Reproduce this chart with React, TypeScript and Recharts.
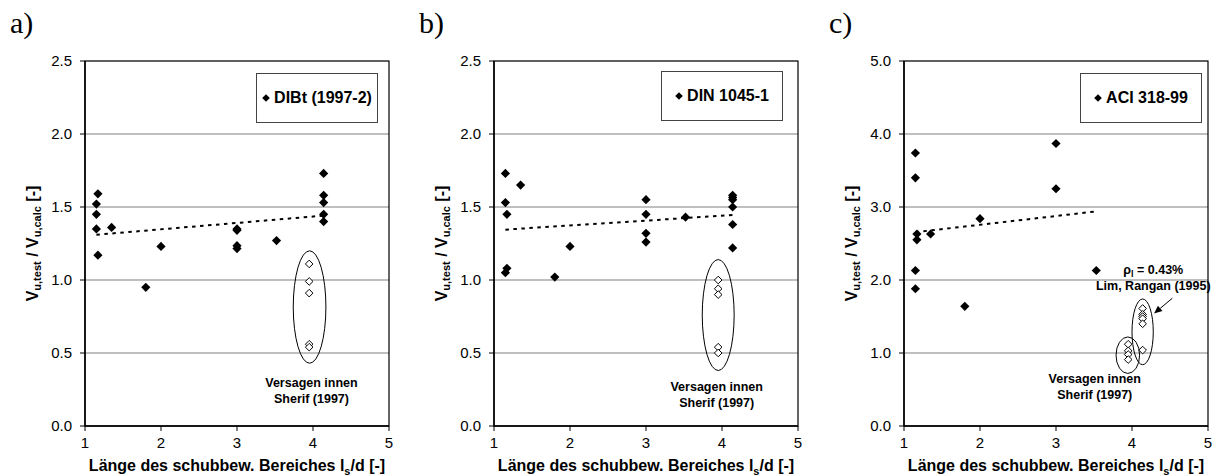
import React from "react";
import {
  ScatterChart,
  Scatter,
  XAxis,
  YAxis,
  CartesianGrid,
  ReferenceArea,
  ReferenceLine,
  ReferenceDot,
  Legend,
} from "recharts";

type Pt = { x: number; y: number };
type Oval = { x1: number; x2: number; y1: number; y2: number };
type Note = { x: number; y: number; lines: string[] };

const SANS = '"Liberation Sans", Arial, sans-serif';
const SERIF = '"Liberation Serif", "Times New Roman", serif';

const X_TICKS = [1, 2, 3, 4, 5];
const Y_TICKS_AB = [0, 0.5, 1, 1.5, 2, 2.5];
const Y_TICKS_C = [0, 1, 2, 3, 4, 5];

// a) DIBt (1997-2)
const dibtTests: Pt[] = [
  { x: 1.17, y: 1.59 },
  { x: 1.15, y: 1.52 },
  { x: 1.15, y: 1.45 },
  { x: 1.15, y: 1.35 },
  { x: 1.17, y: 1.17 },
  { x: 1.35, y: 1.36 },
  { x: 1.8, y: 0.95 },
  { x: 2.0, y: 1.23 },
  { x: 3.0, y: 1.35 },
  { x: 3.0, y: 1.34 },
  { x: 3.0, y: 1.235 },
  { x: 3.0, y: 1.215 },
  { x: 3.52, y: 1.27 },
  { x: 4.14, y: 1.73 },
  { x: 4.14, y: 1.58 },
  { x: 4.14, y: 1.53 },
  { x: 4.14, y: 1.45 },
  { x: 4.14, y: 1.4 },
];
const dibtInner: Pt[] = [
  { x: 3.95, y: 1.11 },
  { x: 3.95, y: 0.99 },
  { x: 3.95, y: 0.91 },
  { x: 3.95, y: 0.56 },
  { x: 3.95, y: 0.54 },
];
const dibtTrend: Pt[] = [
  { x: 1.15, y: 1.31 },
  { x: 4.12, y: 1.44 },
];

// b) DIN 1045-1
const dinTests: Pt[] = [
  { x: 1.15, y: 1.73 },
  { x: 1.15, y: 1.53 },
  { x: 1.17, y: 1.45 },
  { x: 1.17, y: 1.08 },
  { x: 1.15, y: 1.05 },
  { x: 1.35, y: 1.65 },
  { x: 1.8, y: 1.02 },
  { x: 2.0, y: 1.23 },
  { x: 3.0, y: 1.55 },
  { x: 3.0, y: 1.45 },
  { x: 3.0, y: 1.32 },
  { x: 3.0, y: 1.26 },
  { x: 3.52, y: 1.43 },
  { x: 4.14, y: 1.58 },
  { x: 4.14, y: 1.565 },
  { x: 4.14, y: 1.55 },
  { x: 4.14, y: 1.5 },
  { x: 4.14, y: 1.38 },
  { x: 4.14, y: 1.22 },
];
const dinInner: Pt[] = [
  { x: 3.95, y: 1.0 },
  { x: 3.95, y: 0.94 },
  { x: 3.95, y: 0.9 },
  { x: 3.95, y: 0.54 },
  { x: 3.95, y: 0.5 },
];
const dinTrend: Pt[] = [
  { x: 1.15, y: 1.345 },
  { x: 4.14, y: 1.445 },
];

// c) ACI 318-99
const aciTests: Pt[] = [
  { x: 1.15, y: 3.74 },
  { x: 1.15, y: 3.4 },
  { x: 1.17, y: 2.63 },
  { x: 1.17, y: 2.55 },
  { x: 1.15, y: 2.13 },
  { x: 1.15, y: 1.88 },
  { x: 1.35, y: 2.63 },
  { x: 1.8, y: 1.64 },
  { x: 2.0, y: 2.84 },
  { x: 3.0, y: 3.87 },
  { x: 3.0, y: 3.25 },
  { x: 3.53, y: 2.13 },
];
const aciInner: Pt[] = [
  { x: 3.95, y: 1.12 },
  { x: 3.95, y: 1.03 },
  { x: 3.95, y: 0.98 },
  { x: 3.95, y: 0.91 },
];
const aciLimRangan: Pt[] = [
  { x: 4.14, y: 1.61 },
  { x: 4.14, y: 1.53 },
  { x: 4.14, y: 1.5 },
  { x: 4.14, y: 1.47 },
  { x: 4.14, y: 1.4 },
  { x: 4.14, y: 1.04 },
];
const aciTrend: Pt[] = [
  { x: 1.15, y: 2.655 },
  { x: 3.53, y: 2.94 },
];
const aciArrow: Pt[] = [
  { x: 4.53, y: 1.75 },
  { x: 4.29, y: 1.54 },
];

const dibtOvals: Oval[] = [{ x1: 3.74, x2: 4.17, y1: 0.43, y2: 1.2 }];
const dinOvals: Oval[] = [{ x1: 3.74, x2: 4.16, y1: 0.38, y2: 1.14 }];
const aciOvals: Oval[] = [
  { x1: 3.79, x2: 4.1, y1: 0.72, y2: 1.22 },
  { x1: 4.0, x2: 4.28, y1: 0.84, y2: 1.74 },
];

const dibtNotes: Note[] = [{ x: 3.98, y: 0.3, lines: ["Versagen innen", "Sherif (1997)"] }];
const dinNotes: Note[] = [{ x: 3.93, y: 0.27, lines: ["Versagen innen", "Sherif (1997)"] }];
const aciNotes: Note[] = [
  { x: 3.51, y: 0.65, lines: ["Versagen innen", "Sherif (1997)"] },
  { x: 4.28, y: 2.14, lines: ["ρl = 0.43%", "Lim, Rangan (1995)"] },
];

const diamondPath = (cx: number, cy: number, r: number) =>
  `M${cx},${cy - r}L${cx + r},${cy}L${cx},${cy + r}L${cx - r},${cy}Z`;

const FilledDiamond = (p: any) => <path d={diamondPath(p.cx, p.cy, 4.6)} fill="#000" />;
const OpenDiamond = (p: any) => (
  <path d={diamondPath(p.cx, p.cy, 3.8)} fill="#fff" stroke="#000" strokeWidth={1} />
);

const OvalShape = (p: any) => (
  <ellipse
    cx={p.x + p.width / 2}
    cy={p.y + p.height / 2}
    rx={p.width / 2}
    ry={p.height / 2}
    fill="none"
    stroke="#000"
    strokeWidth={1}
  />
);

const ArrowShape = (p: any) => {
  const { x1, y1, x2, y2 } = p;
  const a = Math.atan2(y2 - y1, x2 - x1);
  const len = 8;
  const w = 3.5;
  const bx = x2 - len * Math.cos(a);
  const by = y2 - len * Math.sin(a);
  const nx = -Math.sin(a) * w;
  const ny = Math.cos(a) * w;
  return (
    <g>
      <line x1={x1} y1={y1} x2={bx} y2={by} stroke="#000" strokeWidth={1} />
      <polygon points={`${x2},${y2} ${bx + nx},${by + ny} ${bx - nx},${by - ny}`} fill="#000" />
    </g>
  );
};

function noteShape(lines: string[]) {
  return (p: any) => (
    <text
      x={p.cx}
      y={p.cy}
      textAnchor="middle"
      fontFamily={SANS}
      fontWeight="bold"
      fontSize={12.5}
      fill="#000"
    >
      {lines.map((line, i) => {
        const dy = i === 0 ? 4.5 : 16;
        if (line.startsWith("ρl")) {
          return (
            <tspan key={i} x={p.cx} dy={dy}>
              ρ<tspan fontSize={9} dy={3}>l</tspan>
              <tspan dy={-3}>{line.slice(2)}</tspan>
            </tspan>
          );
        }
        return (
          <tspan key={i} x={p.cx} dy={dy}>
            {line}
          </tspan>
        );
      })}
    </text>
  );
}

const YTitle = (props: any) => {
  const vb = props.viewBox;
  const x = vb.x + 12.5;
  const y = vb.y + vb.height / 2;
  return (
    <text
      x={x}
      y={y}
      transform={`rotate(-90, ${x}, ${y})`}
      textAnchor="middle"
      fontFamily={SANS}
      fontWeight="bold"
      fontSize={16}
      fill="#000"
    >
      V<tspan fontSize={11} dy={3}>u,test</tspan>
      <tspan dy={-3}> / V</tspan>
      <tspan fontSize={11} dy={3}>u,calc</tspan>
      <tspan dy={-3}> [-]</tspan>
    </text>
  );
};

const XTitle = (props: any) => {
  const vb = props.viewBox;
  return (
    <text
      x={vb.x + vb.width / 2}
      y={vb.y + 44.5}
      textAnchor="middle"
      fontFamily={SANS}
      fontWeight="bold"
      fontSize={16}
      fill="#000"
    >
      Länge des schubbew. Bereiches l<tspan fontSize={11} dy={4}>s</tspan>
      <tspan dy={-4}>/d [-]</tspan>
    </text>
  );
};

type PanelProps = {
  letter: string;
  name: string;
  left: number;
  yTicks: number[];
  tests: Pt[];
  inner: Pt[][];
  trend: Pt[];
  ovals: Oval[];
  notes: Note[];
  arrow?: Pt[];
  legendBox: { left: number; top: number };
};

function Panel(props: PanelProps) {
  const { letter, name, left, yTicks, tests, inner, trend, ovals, notes, arrow, legendBox } = props;
  const yMax = yTicks[yTicks.length - 1];
  const tickStyle = { fontFamily: SANS, fontSize: 15, fill: "#000" };
  return (
    <div style={{ position: "absolute", left, top: 0, width: 399, height: 476 }}>
      <div
        style={{
          position: "absolute",
          left: 10,
          top: 8,
          fontFamily: SERIF,
          fontSize: 30,
          lineHeight: "30px",
          color: "#000",
        }}
      >
        {letter}
      </div>
      <ScatterChart width={399} height={476} margin={{ top: 61, right: 10, bottom: 0, left: 25 }}>
        <CartesianGrid vertical={false} stroke="#808080" strokeWidth={1.2} />
        <XAxis
          dataKey="x"
          type="number"
          domain={[1, 5]}
          ticks={X_TICKS}
          height={50}
          tick={tickStyle}
          tickSize={5}
          tickMargin={6}
          axisLine={{ stroke: "#000", strokeWidth: 1.5 }}
          tickLine={{ stroke: "#000" }}
          label={XTitle}
        />
        <YAxis
          dataKey="y"
          type="number"
          domain={[0, yMax]}
          ticks={yTicks}
          width={60}
          tick={tickStyle}
          tickSize={5}
          tickMargin={8}
          tickFormatter={(v: number) => v.toFixed(1)}
          axisLine={{ stroke: "#000", strokeWidth: 1.5 }}
          tickLine={{ stroke: "#000" }}
          label={YTitle}
        />
        <ReferenceArea x1={1} x2={5} y1={0} y2={yMax} fill="none" stroke="#000" strokeWidth={1.2} />
        <ReferenceLine
          segment={trend}
          stroke="#000"
          strokeWidth={2}
          strokeDasharray="3.5 4.5"
        />
        {ovals.map((o, i) => (
          <ReferenceArea key={`o${i}`} x1={o.x1} x2={o.x2} y1={o.y1} y2={o.y2} shape={OvalShape} />
        ))}
        {arrow && <ReferenceLine segment={arrow} shape={ArrowShape} />}
        {notes.map((n, i) => (
          <ReferenceDot key={`n${i}`} x={n.x} y={n.y} r={0} shape={noteShape(n.lines)} />
        ))}
        <Scatter data={tests} shape={FilledDiamond} isAnimationActive={false} />
        {inner.map((set, i) => (
          <Scatter key={`i${i}`} data={set} shape={OpenDiamond} isAnimationActive={false} />
        ))}
        <Legend
          layout="vertical"
          align="center"
          verticalAlign="middle"
          wrapperStyle={{ left: legendBox.left, top: legendBox.top, width: 122, height: 50 }}
          content={() => (
            <div
              style={{
                boxSizing: "border-box",
                width: 122,
                height: 50,
                border: "1px solid #444",
                background: "#fff",
                display: "flex",
                alignItems: "center",
                justifyContent: "center",
                gap: 4,
                fontFamily: SANS,
                fontWeight: "bold",
                fontSize: 16,
                color: "#000",
              }}
            >
              <svg width={8} height={8}>
                <path d={diamondPath(4, 4, 3.8)} fill="#000" />
              </svg>
              <span>{name}</span>
            </div>
          )}
        />
      </ScatterChart>
    </div>
  );
}

export default function App() {
  return (
    <div
      style={{
        position: "absolute",
        left: 0,
        top: 0,
        width: 1218,
        height: 476,
        overflow: "hidden",
        background: "#fff",
      }}
    >
      <Panel
        letter="a)"
        name="DIBt (1997-2)"
        left={0}
        yTicks={Y_TICKS_AB}
        tests={dibtTests}
        inner={[dibtInner]}
        trend={dibtTrend}
        ovals={dibtOvals}
        notes={dibtNotes}
        legendBox={{ left: 256, top: 73 }}
      />
      <Panel
        letter="b)"
        name="DIN 1045-1"
        left={409}
        yTicks={Y_TICKS_AB}
        tests={dinTests}
        inner={[dinInner]}
        trend={dinTrend}
        ovals={dinOvals}
        notes={dinNotes}
        legendBox={{ left: 252, top: 71 }}
      />
      <Panel
        letter="c)"
        name="ACI 318-99"
        left={819}
        yTicks={Y_TICKS_C}
        tests={aciTests}
        inner={[aciInner, aciLimRangan]}
        trend={aciTrend}
        ovals={aciOvals}
        notes={aciNotes}
        arrow={aciArrow}
        legendBox={{ left: 261, top: 73 }}
      />
    </div>
  );
}
